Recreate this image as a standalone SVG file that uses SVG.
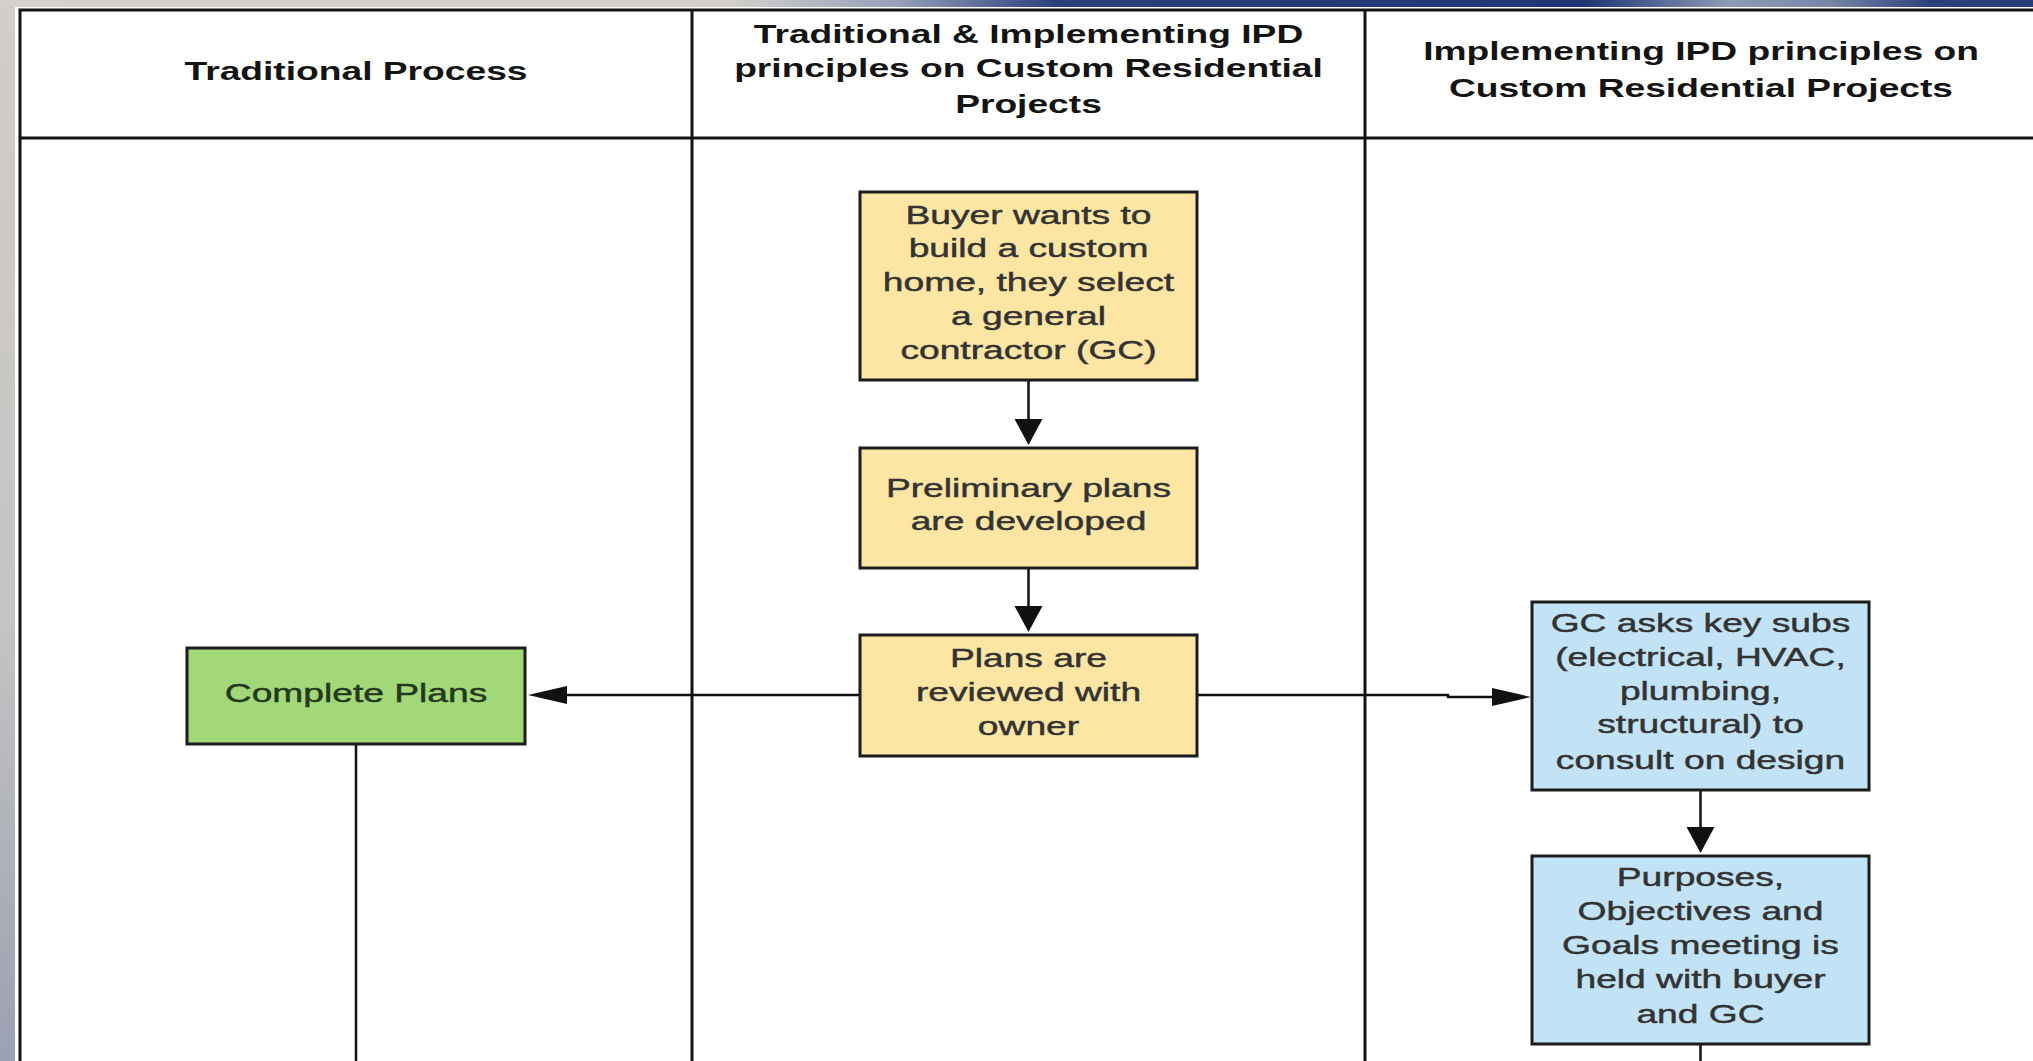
<svg xmlns="http://www.w3.org/2000/svg" width="2033" height="1061" viewBox="0 0 2033 1061">
  <defs>
    <style>
      .grid { stroke: #141414; stroke-width: 3; fill: none; }
      .hdr { font-family: "Liberation Sans", Arial, sans-serif; font-size: 26px; font-weight: bold; fill: #141414; text-anchor: middle; }
      .bt { font-family: "Liberation Sans", Arial, sans-serif; font-size: 26px; fill: #333333; stroke: #333333; stroke-width: 0.45; text-anchor: middle; }
      .gt { fill: #24381f; stroke: #24381f; }
      .box { stroke: #1c1c1c; stroke-width: 3; }
      .yel { fill: #fde6a3; }
      .grn { fill: #a2d877; }
      .blu { fill: #c2e3f5; }
      .conn { stroke: #111111; stroke-width: 2.5; fill: none; }
      .head { fill: #111111; }
    </style>
    <linearGradient id="topbar" x1="0" y1="0" x2="1" y2="0">
      <stop offset="0" stop-color="#d4d0ca"/>
      <stop offset="0.36" stop-color="#d2cfca"/>
      <stop offset="0.44" stop-color="#98a1bb"/>
      <stop offset="0.52" stop-color="#2c3f7b"/>
      <stop offset="0.78" stop-color="#1f3574"/>
      <stop offset="0.85" stop-color="#8f9ab5"/>
      <stop offset="0.9" stop-color="#7886a8"/>
      <stop offset="0.95" stop-color="#2d4079"/>
      <stop offset="1" stop-color="#2a3c77"/>
    </linearGradient>
    <linearGradient id="leftbar" x1="0" y1="0" x2="0" y2="1">
      <stop offset="0" stop-color="#d2cec8"/>
      <stop offset="0.6" stop-color="#c4c3c3"/>
      <stop offset="1" stop-color="#9aa1b3"/>
    </linearGradient>
    <marker id="ah" markerUnits="userSpaceOnUse" markerWidth="40" markerHeight="20" refX="30" refY="9" orient="auto">
      <path class="head" d="M0,0 L39,9 L0,18 Z"/>
    </marker>
    <marker id="av" markerUnits="userSpaceOnUse" markerWidth="28" markerHeight="30" refX="18" refY="14" orient="auto">
      <path class="head" d="M0,0 L26,14 L0,28 Z"/>
    </marker>
  </defs>

  <rect x="0" y="0" width="2033" height="1061" fill="#ffffff"/>
  <rect x="0" y="0" width="15" height="1061" fill="url(#leftbar)"/>
  <rect x="0" y="0" width="2033" height="7" fill="url(#topbar)"/>

  <g id="table">
    <path class="grid" d="M20,1061 V10 H2040"/>
    <path class="grid" d="M20,138 H2040"/>
    <path class="grid" d="M692,10 V1061"/>
    <path class="grid" d="M1365,10 V1061"/>
  </g>

  <g id="headers">
    <text class="hdr" transform="translate(356 0) scale(1.43 1)"><tspan x="0" y="80">Traditional Process</tspan></text>
    <text class="hdr" transform="translate(1028.5 0) scale(1.43 1)"><tspan x="0" y="43">Traditional &amp; Implementing IPD</tspan><tspan x="0" y="77">principles on Custom Residential</tspan><tspan x="0" y="113">Projects</tspan></text>
    <text class="hdr" transform="translate(1701 0) scale(1.43 1)"><tspan x="0" y="60">Implementing IPD principles on</tspan><tspan x="0" y="97">Custom Residential Projects</tspan></text>
  </g>

  <g id="connectors">
    <path class="conn" d="M1028.5,380 V437" marker-end="url(#av)"/>
    <path class="conn" d="M1028.5,568 V624" marker-end="url(#av)"/>
    <path class="conn" d="M860,695 H537" marker-end="url(#ah)"/>
    <path class="conn" d="M1197,695 H1448 V697 H1522" marker-end="url(#ah)"/>
    <path class="conn" d="M1700.5,790 V845" marker-end="url(#av)"/>
    <path class="conn" d="M356,744 V1061"/>
    <path class="conn" d="M1700.5,1044 V1061"/>
  </g>

  <g id="buyer">
    <rect class="box yel" x="860" y="192" width="337" height="188"/>
    <text class="bt" transform="translate(1028.5 0) scale(1.43 1)"><tspan x="0" y="224">Buyer wants to</tspan><tspan x="0" y="257">build a custom</tspan><tspan x="0" y="291">home, they select</tspan><tspan x="0" y="325">a general</tspan><tspan x="0" y="359">contractor (GC)</tspan></text>
  </g>

  <g id="preliminary">
    <rect class="box yel" x="860" y="448" width="337" height="120"/>
    <text class="bt" transform="translate(1028.5 0) scale(1.43 1)"><tspan x="0" y="497">Preliminary plans</tspan><tspan x="0" y="530">are developed</tspan></text>
  </g>

  <g id="reviewed">
    <rect class="box yel" x="860" y="635" width="337" height="121"/>
    <text class="bt" transform="translate(1028.5 0) scale(1.43 1)"><tspan x="0" y="667">Plans are</tspan><tspan x="0" y="701">reviewed with</tspan><tspan x="0" y="735">owner</tspan></text>
  </g>

  <g id="complete">
    <rect class="box grn" x="187" y="648" width="338" height="96"/>
    <text class="bt gt" transform="translate(356 0) scale(1.43 1)"><tspan x="0" y="702">Complete Plans</tspan></text>
  </g>

  <g id="gcsubs">
    <rect class="box blu" x="1532" y="602" width="337" height="188"/>
    <text class="bt" transform="translate(1700.5 0) scale(1.43 1)"><tspan x="0" y="632">GC asks key subs</tspan><tspan x="0" y="666">(electrical, HVAC,</tspan><tspan x="0" y="700">plumbing,</tspan><tspan x="0" y="733">structural) to</tspan><tspan x="0" y="769">consult on design</tspan></text>
  </g>

  <g id="meeting">
    <rect class="box blu" x="1532" y="856" width="337" height="188"/>
    <text class="bt" transform="translate(1700.5 0) scale(1.43 1)"><tspan x="0" y="886">Purposes,</tspan><tspan x="0" y="920">Objectives and</tspan><tspan x="0" y="954">Goals meeting is</tspan><tspan x="0" y="988">held with buyer</tspan><tspan x="0" y="1023">and GC</tspan></text>
  </g>
</svg>
